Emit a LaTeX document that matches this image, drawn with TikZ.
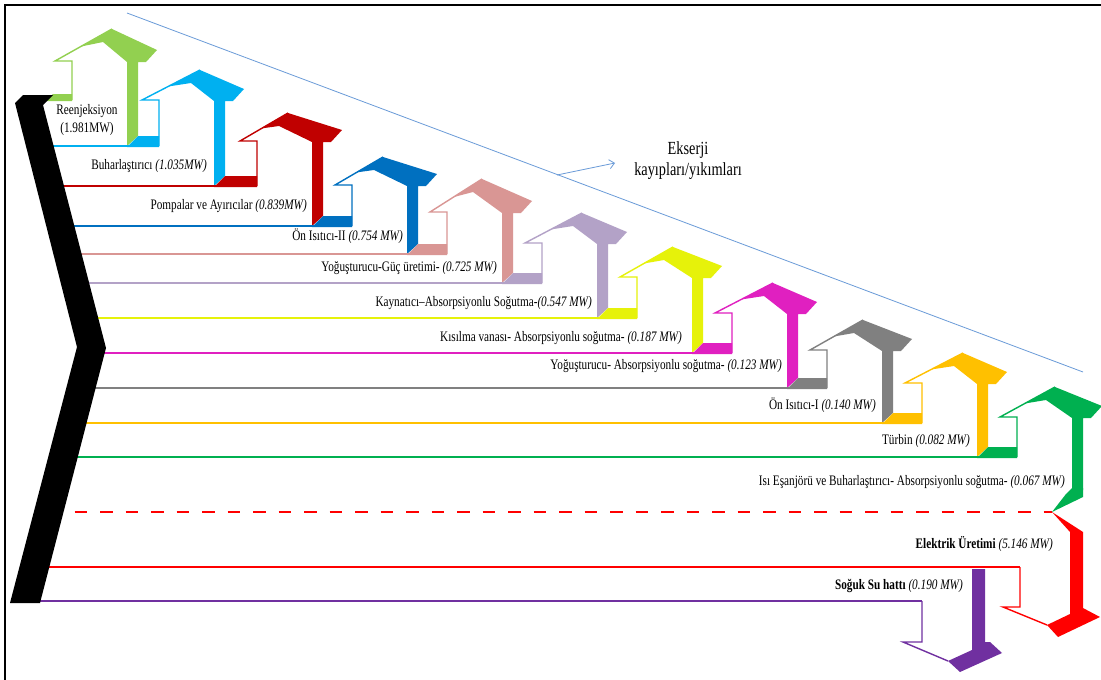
\documentclass[tikz,border=0pt]{standalone}
\usepackage{fontspec}
\setmainfont{Liberation Serif}[FakeStretch=0.775]
\usetikzlibrary{arrows.meta}
\definecolor{cA}{HTML}{92D050}
\definecolor{cB}{HTML}{00B0F0}
\definecolor{cC}{HTML}{C00000}
\definecolor{cD}{HTML}{0070C0}
\definecolor{cE}{HTML}{D99694}
\definecolor{cF}{HTML}{B3A2C7}
\definecolor{cG}{HTML}{E6F20A}
\definecolor{cH}{HTML}{E020C0}
\definecolor{cI}{HTML}{808080}
\definecolor{cJ}{HTML}{FFC000}
\definecolor{cK}{HTML}{00B050}
\definecolor{cL}{HTML}{FF0000}
\definecolor{cM}{HTML}{7030A0}
\definecolor{cN}{HTML}{6A9BD8}
% #1 colour, #2 shaft left x, #3 head base y, #4 top line y, #5 bottom y, #6 apex dx, #7 apex dy, #8 start x
\newcommand\house[8]{%
 \pgfmathsetmacro\hxl{#2-17}%
 \pgfmathsetmacro\hax{#2+#6}%
 \pgfmathsetmacro\hay{#3-#7}%
 \pgfmathsetmacro\hix{#2+#6-9}%
 \pgfmathsetmacro\hiy{#3-#7+13}%
 \pgfmathsetmacro\hpx{\hxl+0.45*(\hax-\hxl)}%
 \pgfmathsetmacro\hpy{#3+0.45*(\hay-#3)}%
 \pgfmathsetmacro\hrtx{#2+85}%
 \pgfmathsetmacro\hrty{#3-11}%
 \pgfmathsetmacro\hrbx{#2+74}%
 \pgfmathsetmacro\hR{#2+66}%
 \pgfmathsetmacro\hbl{#2+55}%
 \pgfmathsetmacro\hbb{#3+1}%
 \pgfmathsetmacro\hyb{#5-10}%
 \fill[#1] (\hpx,\hpy) -- (\hax,\hay) -- (\hrtx,\hrty) -- (\hrbx,\hbb) -- (\hR,\hbb) -- (\hR,\hyb) -- (\hbl,#5) -- (\hbl,\hbb) -- (\hix,\hiy) -- cycle;
 \draw[#1,flowln] (#8,#4) -- (#2,#4);
 \draw[#1,thinln] (#2,#4) -- (#2,#3) -- (\hxl,#3) -- (\hax,\hay);
}
% #1 colour, #2 previous shaft left x, #3 shaft left x, #4 top line y
\newcommand\blk[4]{%
 \fill[#1] (#2+66,#4-10) -- (#3,#4-10) -- (#3,#4+1) -- (#2+55,#4+1) -- cycle;}
\begin{document}
\begin{tikzpicture}[x=1pt,y=-1pt,
  flowln/.style={line width=2.6pt},
  thinln/.style={line width=1.4pt,line join=miter},
  lbl/.style={inner sep=0pt,anchor=mid east,font=\fontsize{14.5}{17}\selectfont},
  big/.style={inner sep=0pt,anchor=mid,font=\fontsize{18.5}{21}\selectfont}]
\useasboundingbox (0,0) rectangle (1101,680);
\fill[white] (0,0) rectangle (1101,680);
\draw[line width=2.2pt] (5,680) -- (5,5) -- (1101,5);
% exergy annotation
\coordinate (ekA) at (127,13);
\coordinate (ekB) at (1083,372);
\coordinate (ekC) at (557,175);
\coordinate (ekD) at (615,163);
\draw[cN,line width=0.8pt] (ekA) -- (ekB);
\draw[cN,line width=0.8pt,-{Straight Barb[length=5pt,width=9pt]}] (ekC) -- (ekD);
\node[big] (ek1) at (688,152) {Ekserji};
\node[big] (ek2) at (688,173) {kayıpları/yıkımları};
% house arrows
\house{cA}{72}{61}{100}{146}{40}{32}{45}
\house{cB}{159}{100}{146}{186}{41}{30}{40}
\house{cC}{257}{141}{186}{226}{31}{28}{50}
\house{cD}{352}{185}{226}{254}{31}{28}{60}
\house{cE}{447}{212}{254}{283}{35}{33}{67}
\house{cF}{542}{243}{283}{318}{40}{30}{75}
\house{cG}{637}{277}{318}{353}{36}{30}{84}
\house{cH}{732}{313}{353}{388}{41}{30}{90}
\house{cI}{827}{350}{388}{423}{36}{30}{80}
\house{cJ}{922}{383}{423}{457}{41}{30}{72}
\house{cK}{1017}{417}{457}{500}{38}{30}{63}
\fill[cK] (1072,488) -- (1083,488) -- (1083,497) -- (1052,512) -- (1066,494) -- cycle;
\fill[cA] (53,94) -- (72,94) -- (72,101) -- (45,101) -- cycle;
\blk{cB}{72}{159}{146}
\blk{cC}{159}{257}{186}
\blk{cD}{257}{352}{226}
\blk{cE}{352}{447}{254}
\blk{cF}{447}{542}{283}
\blk{cG}{542}{637}{318}
\blk{cH}{637}{732}{353}
\blk{cI}{732}{827}{388}
\blk{cJ}{827}{922}{423}
\blk{cK}{922}{1017}{457}
% electricity (red) arrow
\draw[cL,line width=2.6pt,dash pattern=on 12.5pt off 13pt] (49,512) -- (1052,512);
\fill[cL] (1052,512) -- (1083,532) -- (1083,608) -- (1100,617) -- (1058,637) -- (1047,625) -- (1070,614) -- (1070,532) -- cycle;
\draw[cL,flowln] (35,567) -- (1020,567);
\draw[cL,thinln] (1020,567) -- (1020,607) -- (1003,607) -- (1047,625);
% cold water (purple) arrow
\fill[cM] (972,569) -- (985,569) -- (985,642) -- (990,642) -- (1002,653) -- (960,672) -- (948,661) -- (972,650) -- cycle;
\draw[cM,flowln] (25,601) -- (922,601);
\draw[cM,thinln] (922,601) -- (922,642) -- (903,642) -- (948,661);
% black chevron
\fill[black] (15,103) -- (23,95) -- (53,95) -- (43,105) -- (106,348) -- (40,603) -- (10,603) -- (77,347) -- cycle;
% labels
\node[lbl,anchor=mid] (t1a) at (87,112) {Reenjeksiyon};
\node[lbl,anchor=mid] (t1b) at (87,130) {(1.981MW)};
\node[lbl] (t2) at (207,167) {Buharlaştırıcı \textit{(1.035MW)}};
\node[lbl] (t3) at (307,207) {Pompalar ve Ayırıcılar \textit{(0.839MW)}};
\node[lbl] (t4) at (403,238) {Ön Isıtıcı-II \textit{(0.754 MW)}};
\node[lbl] (t5) at (497,269) {Yoğuşturucu-Güç üretimi- \textit{(0.725 MW)}};
\node[lbl] (t6) at (592,304) {Kaynatıcı–Absorpsiyonlu Soğutma-\textit{(0.547 MW)}};
\node[lbl] (t7) at (682,339) {Kısılma vanası- Absorpsiyonlu soğutma- \textit{(0.187 MW)}};
\node[lbl] (t8) at (782,367) {Yoğuşturucu- Absorpsiyonlu soğutma- \textit{(0.123 MW)}};
\node[lbl] (t9) at (876,407) {Ön Isıtıcı-I \textit{(0.140 MW)}};
\node[lbl] (t10) at (970,442) {Türbin \textit{(0.082 MW)}};
\node[lbl] (t11) at (1065,483) {Isı Eşanjörü ve Buharlaştırıcı- Absorpsiyonlu soğutma- \textit{(0.067 MW)}};
\node[lbl] (t12) at (1053,546) {\textbf{Elektrik Üretimi} \textit{(5.146 MW)}};
\node[lbl] (t13) at (963,587) {\textbf{Soğuk Su hattı} \textit{(0.190 MW)}};
\end{tikzpicture}
\end{document}
